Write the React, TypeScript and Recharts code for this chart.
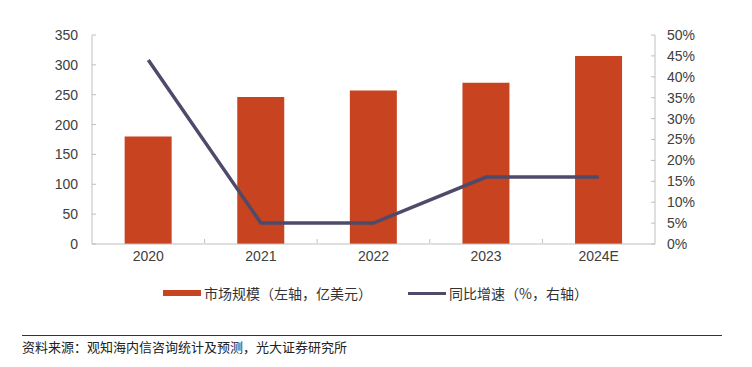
import { ComposedChart, Bar, Line, XAxis, YAxis } from "recharts"

const years = ["2020", "2021", "2022", "2023", "2024E"]
const marketSize = [180, 246, 257, 270, 315]
const growth = [44, 5, 5, 16, 16]
const leftTicks = [0, 50, 100, 150, 200, 250, 300, 350]
const rightTicks = [0, 5, 10, 15, 20, 25, 30, 35, 40, 45, 50]

const data = years.map((year, i) => ({
  year,
  size: marketSize[i],
  growth: growth[i],
}))

const FONT = "'Liberation Sans', Arial, 'Noto Sans CJK SC', sans-serif"
const CJK = "'Noto Sans CJK SC', 'Liberation Sans', sans-serif"
const BAR_COLOR = "#C8431F"
const LINE_COLOR = "#4E4A6A"
const AXIS_COLOR = "#BFBFBF"
const TICK_COLOR = "#404040"

function YearTick(props: any) {
  const { x, y, payload, index } = props
  const half = payload.offset ?? 56
  const axisY = y - 8
  return (
    <g>
      {index < years.length - 1 && (
        <line
          x1={x + half}
          x2={x + half}
          y1={axisY}
          y2={axisY - 4}
          stroke={AXIS_COLOR}
        />
      )}
      <text
        x={x}
        y={y}
        dy="0.71em"
        textAnchor="middle"
        fill={TICK_COLOR}
        fontSize={14}
        fontFamily={FONT}
      >
        {payload.value}
      </text>
    </g>
  )
}

export default function App() {
  return (
    <div
      style={{
        position: "absolute",
        left: 0,
        top: 0,
        width: 752,
        height: 367,
        background: "#fff",
      }}
    >
      <ComposedChart
        width={752}
        height={280}
        data={data}
        margin={{ top: 35, right: 0, bottom: 6, left: 0 }}
        barCategoryGap="29%"
      >
        <XAxis
          dataKey="year"
          height={30}
          stroke={AXIS_COLOR}
          tickLine={false}
          tickSize={6}
          tickMargin={1}
          tick={<YearTick />}
        />
        <YAxis
          yAxisId="left"
          width={92}
          domain={[0, 350]}
          ticks={leftTicks}
          interval={0}
          stroke={AXIS_COLOR}
          tickSize={-4}
          tickMargin={18}
          tick={{ fill: TICK_COLOR, fontSize: 14, fontFamily: FONT }}
        />
        <YAxis
          yAxisId="right"
          orientation="right"
          width={97}
          domain={[0, 50]}
          ticks={rightTicks}
          interval={0}
          stroke={AXIS_COLOR}
          tickSize={-4}
          tickMargin={16}
          tickFormatter={(v) => `${v}%`}
          tick={{ fill: TICK_COLOR, fontSize: 14, fontFamily: FONT }}
        />
        <Bar
          yAxisId="left"
          dataKey="size"
          fill={BAR_COLOR}
          isAnimationActive={false}
        />
        <Line
          yAxisId="right"
          dataKey="growth"
          stroke={LINE_COLOR}
          strokeWidth={3.5}
          dot={false}
          isAnimationActive={false}
        />
      </ComposedChart>

      <div
        style={{
          position: "absolute",
          top: 284,
          left: 163,
          display: "flex",
          alignItems: "center",
          fontFamily: CJK,
          fontSize: 14,
          color: "#333",
          lineHeight: "18px",
        }}
      >
        <span
          style={{ width: 38, height: 6, background: BAR_COLOR, marginRight: 3 }}
        />
        <span>市场规模（左轴，亿美元）</span>
        <span
          style={{
            width: 38,
            height: 3,
            background: LINE_COLOR,
            marginLeft: 36,
            marginRight: 3,
          }}
        />
        <span>同比增速（%，右轴）</span>
      </div>

      <div
        style={{
          position: "absolute",
          top: 335,
          left: 22,
          width: 700,
          borderTop: "1.5px solid #333",
        }}
      />
      <div
        style={{
          position: "absolute",
          top: 338,
          left: 22,
          fontFamily: CJK,
          fontSize: 13,
          color: "#222",
          lineHeight: "18px",
        }}
      >
        资料来源：观知海内信咨询统计及预测，光大证券研究所
      </div>
    </div>
  )
}
